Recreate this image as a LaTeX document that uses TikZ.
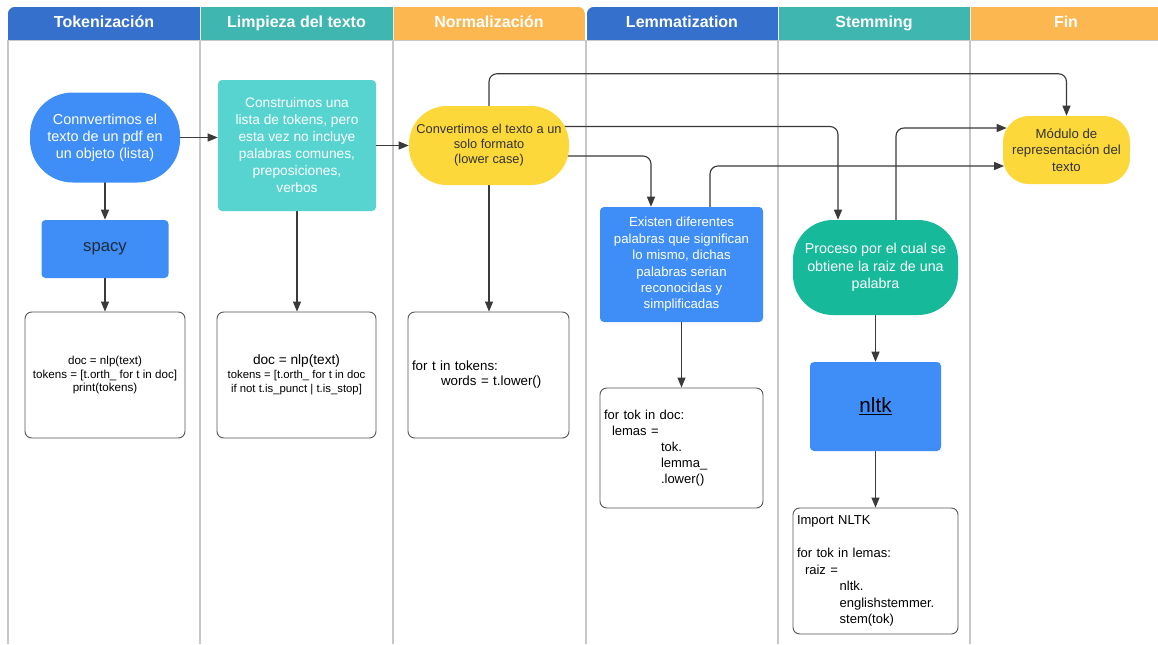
\documentclass[tikz,border=0pt]{standalone}
\usepackage{fontspec}
\setmainfont{Liberation Sans}
\usetikzlibrary{arrows.meta,calc}
\pgfdeclarelayer{lanes}
\pgfdeclarelayer{edges}
\pgfsetlayers{lanes,edges,main}

\definecolor{hblue}{HTML}{3570CC}
\definecolor{hteal}{HTML}{40B6B0}
\definecolor{horange}{HTML}{FDB750}
\definecolor{nblue}{HTML}{3F8EF7}
\definecolor{nteal}{HTML}{57D4D0}
\definecolor{ngreen}{HTML}{16BA9A}
\definecolor{nyellow}{HTML}{FDD83A}
\definecolor{lanegray}{HTML}{C8C8C8}
\definecolor{edgecol}{HTML}{3A3A3A}
\definecolor{darktext}{HTML}{1E2A38}
\definecolor{codeborder}{HTML}{555555}

\def\pu{0.75pt}

\begin{document}
\begin{tikzpicture}[x=0.75pt, y=-0.75pt,
  lane/.style={draw=lanegray, line width=1.1pt},
  htext/.style={text=white, anchor=base, font=\bfseries\fontsize{12}{14}\selectfont},
  shape box/.style={inner sep=2pt, align=center},
  pill/.style={shape box},
  flatbox/.style={shape box, rounded corners=3pt},
  codebox/.style={draw=codeborder, line width=0.7pt, rounded corners=5pt, fill=white,
    inner xsep=3pt, inner ysep=2pt, text=black},
  arr/.style={draw=edgecol, line width=0.85pt, rounded corners=6pt,
    -{Triangle[length=7.5pt,width=6pt]}}
]
\useasboundingbox (0,0) rectangle (1158,644);

% page background and swimlane borders
\begin{pgfonlayer}{lanes}
  \fill[white] (0,0) rectangle (1158,644);
  \foreach \lx in {8,200,393,586,778,970}
    \draw[lane] (\lx,40) -- (\lx,644);
\end{pgfonlayer}

% header bar, left group
\begin{scope}
  \clip[rounded corners=5pt] (8,7) rectangle (585,60);
  \fill[hblue] (8,7) rectangle (200,40);
  \fill[hteal] (200,7) rectangle (393,40);
  \fill[horange] (393,7) rectangle (585,40);
  \draw[white!85!gray, line width=0.6pt] (200,7) -- (200,40) (393,7) -- (393,40);
\end{scope}
% header bar, right group
\begin{scope}
  \clip[rounded corners=5pt] (587,7) rectangle (1175,60);
  \fill[hblue] (587,7) rectangle (778,40);
  \fill[hteal] (778,7) rectangle (970,40);
  \fill[horange] (970,7) rectangle (1175,40);
  \draw[white!85!gray, line width=0.6pt] (778,7) -- (778,40) (970,7) -- (970,40);
\end{scope}
\draw[lanegray, line width=1pt] (8,40.5) -- (585,40.5) (587,40.5) -- (1158,40.5);

\node[htext] (h1) at (104,27.5) {Tokenización};
\node[htext] (h2) at (296.5,27.5) {Limpieza del texto};
\node[htext] (h3) at (489,27.5) {Normalización};
\node[htext] (h4) at (682,27.5) {Lemmatization};
\node[htext] (h5) at (874,27.5) {Stemming};
\node[htext] (h6) at (1066,27.5) {Fin};

% process nodes
\node[pill, fill=nblue, text=white, rounded corners=32pt,
  minimum width=150*\pu, minimum height=90*\pu,
  font=\fontsize{10.8}{12.75}\selectfont] (conv) at (105,137.5)
  {Connvertimos el\\texto de un pdf en\\un objeto (lista)};

\node[flatbox, fill=nblue, text=darktext,
  minimum width=127*\pu, minimum height=58*\pu,
  font=\fontsize{12.5}{15}\selectfont] (spacy) at (105,249) {spacy};

\node[flatbox, fill=nteal, text=white,
  minimum width=158*\pu, minimum height=131*\pu,
  font=\fontsize{10.3}{12.75}\selectfont] (teal) at (297,145.5)
  {Construimos una\\lista de tokens, pero\\esta vez no incluye\\palabras comunes,\\preposiciones,\\verbos};

\node[pill, fill=nyellow, text=black!80, rounded corners=28.5pt,
  minimum width=160*\pu, minimum height=79*\pu,
  font=\fontsize{9.6}{11.25}\selectfont] (yel) at (489,145.5)
  {Convertimos el texto a un\\solo formato\\(lower case)};

\node[flatbox, fill=nblue, text=white,
  minimum width=163*\pu, minimum height=115*\pu,
  font=\fontsize{9.9}{12.3}\selectfont] (ex) at (681.5,264.5)
  {Existen diferentes\\palabras que significan\\lo mismo, dichas\\palabras serian\\reconocidas y\\simplificadas};

\node[pill, fill=ngreen, text=white, rounded corners=30pt,
  minimum width=165*\pu, minimum height=95*\pu,
  font=\fontsize{10.7}{13}\selectfont] (proc) at (875.5,267.5)
  {Proceso por el cual se\\obtiene la raiz de una\\palabra};

\node[flatbox, fill=nblue, text=black,
  minimum width=131*\pu, minimum height=89*\pu,
  font=\fontsize{15.5}{18}\selectfont] (nltk) at (875.5,406.5) {\underline{nltk}};

\node[pill, fill=nyellow, text=black!80, rounded corners=19.5pt,
  minimum width=127*\pu, minimum height=68*\pu,
  font=\fontsize{9.9}{12.2}\selectfont] (mod) at (1066.5,150)
  {Módulo de\\representación del\\texto};

% code boxes
\node[codebox, align=center, minimum width=160*\pu, minimum height=126*\pu,
  font=\fontsize{8.7}{10.3}\selectfont] (c1) at (105,375)
  {doc = nlp(text)\\tokens = [t.orth\_ for t in doc]\\print(tokens)};

\node[codebox, align=center, minimum width=159*\pu, minimum height=126*\pu,
  font=\fontsize{8.5}{10.5}\selectfont] (c2) at (296.5,375)
  {{\fontsize{10.25}{12}\selectfont doc = nlp(text)}\\tokens = [t.orth\_ for t in doc\\if not t.is\_punct | t.is\_stop]};

\node[codebox, align=left, text width=153*\pu, minimum height=126*\pu,
  font=\fontsize{10}{11.25}\selectfont] (c3) at (488.5,375)
  {for t in tokens:\\\hspace*{21.75pt}words = t.lower()};

\node[codebox, align=left, text width=155*\pu, minimum height=120*\pu,
  font=\fontsize{9.75}{12}\selectfont] (c4) at (681.5,448)
  {for tok in doc:\\\hspace*{6pt}lemas =\\\hspace*{42.75pt}tok.\\\hspace*{42.75pt}lemma\_\\\hspace*{42.75pt}.lower()};

\node[codebox, align=left, text width=157*\pu, minimum height=126*\pu,
  font=\fontsize{9.75}{12.4}\selectfont] (c5) at (875.5,571)
  {Import NLTK\\[12.4pt]for tok in lemas:\\\hspace*{6pt}raiz =\\\hspace*{32pt}nltk.\\\hspace*{32pt}englishstemmer.\\\hspace*{32pt}stem(tok)};

% connectors
\begin{pgfonlayer}{edges}
  \draw[arr] (conv.center) -- (conv.center -| teal.west);
  \draw[arr] (teal.center) -- (yel.west);
  \draw[arr] (conv.center) -- (spacy.north);
  \draw[arr] (spacy.center) -- (c1.north);
  \draw[arr] (teal.center) -- (teal.center |- c2.north);
  \draw[arr] (yel.center) -- (yel.center |- c3.north);
  \draw[arr] (yel.center) -- ($(yel.north)+(0,-32)$) -| (mod.north);
  \draw[arr] ($(yel.center)+(0,-19)$) -| ($(proc.north)+(-37.5,0)$);
  \draw[arr] ($(yel.center)+(0,10.5)$) -| ($(ex.north)+(-30.5,0)$);
  \draw[arr] ($(ex.center)+(28.5,0)$) |- ($(mod.west)+(1.3,16)$);
  \draw[arr] ($(proc.center)+(20.5,0)$) |- ($(mod.west)+(4,-22)$);
  \draw[arr] (ex.center) -- (c4.north);
  \draw[arr] (proc.center) -- (nltk.north);
  \draw[arr] (nltk.center) -- (c5.north);
\end{pgfonlayer}
\end{tikzpicture}
\end{document}
